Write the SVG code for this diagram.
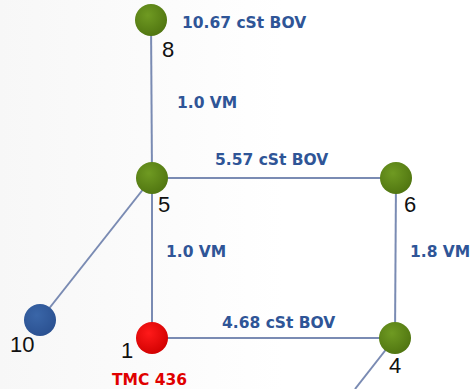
<svg xmlns="http://www.w3.org/2000/svg" width="472" height="389" viewBox="0 0 472 389">
<defs>
<radialGradient id="gGreen" cx="0.4" cy="0.35" r="0.7">
<stop offset="0" stop-color="#6f9a22"/>
<stop offset="1" stop-color="#4f7410"/>
</radialGradient>
<radialGradient id="gRed" cx="0.4" cy="0.35" r="0.7">
<stop offset="0" stop-color="#ff1a1a"/>
<stop offset="1" stop-color="#d00000"/>
</radialGradient>
<radialGradient id="gBlue" cx="0.4" cy="0.35" r="0.7">
<stop offset="0" stop-color="#3a66a8"/>
<stop offset="1" stop-color="#2a5090"/>
</radialGradient>
<linearGradient id="bg" x1="0" y1="0" x2="1" y2="0">
<stop offset="0" stop-color="#f7f7f7"/>
<stop offset="0.6" stop-color="#ffffff"/>
</linearGradient>
</defs>
<style>
.edge{stroke:#7a8bb3;stroke-width:2;fill:none}
.num{font-family:"Liberation Sans",Arial,sans-serif;font-size:22px;fill:#111}
.lbl{font-family:"DejaVu Sans",Verdana,sans-serif;font-weight:bold;font-size:15.5px;fill:#2f5597}
.red{fill:#e00000}
</style>
<rect width="472" height="389" fill="url(#bg)"/>
<g id="connectors">
<line class="edge" x1="151" y1="20" x2="152" y2="178"/>
<line class="edge" x1="152" y1="178" x2="396" y2="178"/>
<line class="edge" x1="396" y1="178" x2="395" y2="338"/>
<line class="edge" x1="152" y1="178" x2="152" y2="338"/>
<line class="edge" x1="152" y1="338" x2="395" y2="338"/>
<line class="edge" x1="152" y1="178" x2="40" y2="320"/>
<line class="edge" x1="395" y1="338" x2="355" y2="389"/>
</g>
<g id="edge-labels">
<text class="lbl" x="182" y="28">10.67 cSt BOV</text>
<text class="lbl" x="177" y="108">1.0 VM</text>
<text class="lbl" x="215" y="165">5.57 cSt BOV</text>
<text class="lbl" x="166" y="257">1.0 VM</text>
<text class="lbl" x="410" y="257">1.8 VM</text>
<text class="lbl" x="222" y="328">4.68 cSt BOV</text>
</g>
<g id="node8"><circle cx="151" cy="20" r="16" fill="url(#gGreen)"/><text class="num" x="162" y="57">8</text></g>
<g id="node5"><circle cx="152" cy="178" r="16" fill="url(#gGreen)"/><text class="num" x="158" y="212">5</text></g>
<g id="node6"><circle cx="396" cy="178" r="16" fill="url(#gGreen)"/><text class="num" x="404" y="212">6</text></g>
<g id="node10"><circle cx="40" cy="320" r="16" fill="url(#gBlue)"/><text class="num" x="10" y="352">10</text></g>
<g id="node1"><circle cx="152" cy="338" r="16" fill="url(#gRed)"/><text class="num" x="121" y="358">1</text><text class="lbl red" x="112" y="385">TMC 436</text></g>
<g id="node4"><circle cx="395" cy="338" r="16" fill="url(#gGreen)"/><text class="num" x="389" y="373">4</text></g>
</svg>
